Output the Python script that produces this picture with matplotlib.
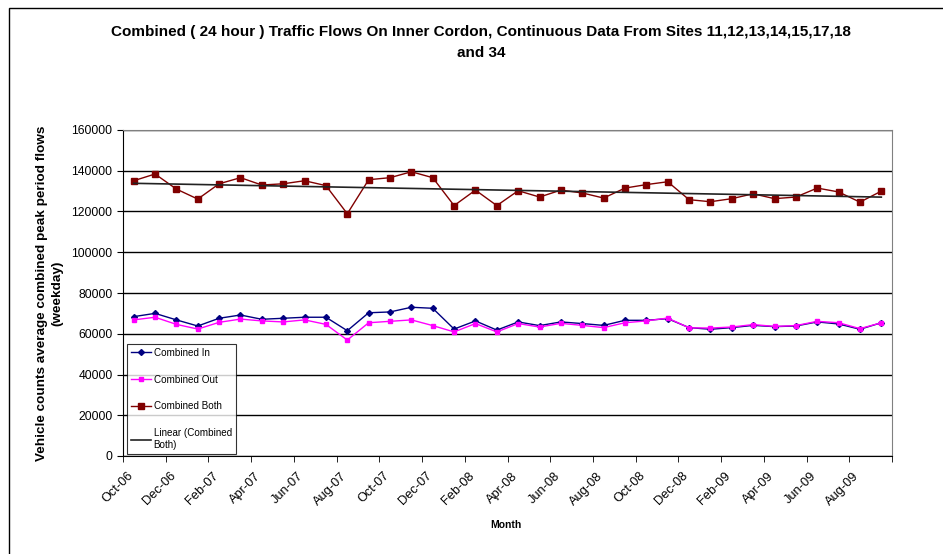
import matplotlib.pyplot as plt
import numpy as np
import pandas as pd
from matplotlib.patches import Rectangle
from matplotlib.transforms import ScaledTranslation

plt.rcParams['font.family'] = ['Liberation Sans', 'DejaVu Sans']

# Oct-06 .. Sep-09, one value per month
months = pd.date_range("2006-10-01", periods=36, freq="MS").strftime("%b-%y").tolist()

combined_in = [68400, 70000, 66800, 63800, 67600, 69200, 67100, 67600, 68100, 68100,
               61500, 70300, 70700, 73000, 72500, 62300, 66300, 61800, 65800, 64000,
               65800, 65000, 64100, 66600, 66600, 67400, 63000, 62200, 63000, 64100,
               63500, 63800, 65800, 64800, 62200, 65400]
combined_out = [66800, 68100, 64600, 62300, 65600, 67200, 66300, 65800, 66800, 64600,
                56900, 65400, 66100, 66800, 64000, 60900, 65000, 60900, 65000, 63300,
                65100, 64100, 63000, 65400, 66300, 67700, 62900, 62800, 63300, 64500,
                63600, 64000, 66100, 65400, 62500, 65400]
combined_both = [135100, 138400, 131000, 126100, 133600, 136600, 133000, 133600, 135100, 132700,
                 118900, 135600, 136600, 139500, 136600, 122900, 130500, 122900, 130200, 127100,
                 130500, 129100, 126600, 131500, 133200, 134600, 125800, 124800, 126300, 128700,
                 126300, 127100, 131500, 129600, 124600, 130000]

x = np.arange(len(months))
coef = np.polyfit(x, combined_both, 1)
trend = np.polyval(coef, x)

fig = plt.figure(figsize=(9.43, 5.54), dpi=100)
ax = fig.add_axes([123 / 943, 1 - 456 / 554, 769 / 943, 326 / 554])

ax.plot(x, combined_in, color='#000080', lw=1, marker='D', ms=3, label='Combined In')
ax.plot(x, combined_out, color='#FF00FF', lw=1, marker='s', ms=3.5, label='Combined Out')
ax.plot(x, combined_both, color='#800000', lw=1, marker='s', ms=5, label='Combined Both')
ax.plot(x, trend, color='#222222', lw=1.2, label='Linear (Combined\nBoth)')

ax.set_xlim(-0.5, 35.5)
ax.set_ylim(0, 160000)
ax.set_yticks(np.arange(0, 160001, 20000))
ax.yaxis.grid(True, color='black', lw=1)
ax.set_axisbelow(True)

ax.set_xticks(x[::2])
ax.set_xticklabels(months[::2], rotation=45, ha='right', va='top', rotation_mode='anchor')
ax.set_xticks(np.arange(-0.5, 36, 2), minor=True)
ax.tick_params(axis='x', which='major', length=0, pad=10, labelsize=9.2)
ax.tick_params(axis='x', which='minor', length=4, direction='out', color='black')
ax.tick_params(axis='y', length=4, labelsize=8.7)
for lab in ax.get_xticklabels():
    lab.set_transform(lab.get_transform() + ScaledTranslation(-0.07, 0, fig.dpi_scale_trans))

ax.spines['top'].set_color('#808080')
ax.spines['right'].set_color('#808080')
ax.spines['left'].set_color('black')
ax.spines['bottom'].set_color('black')

ax.set_xlabel('Month', fontsize=7.5, fontweight='bold', va='center')
ax.xaxis.set_label_coords((506 - 123) / 769, (456 - 525) / 326)
ax.set_ylabel('Vehicle counts average combined peak period flows\n(weekday)',
              fontsize=9.7, fontweight='bold', labelpad=6, linespacing=1.35)

fig.text(0.51, 1 - 42.5 / 554, 'Combined ( 24 hour ) Traffic Flows On Inner Cordon, Continuous Data From Sites 11,12,13,14,15,17,18\nand 34',
         ha='center', va='center', fontsize=11, fontweight='bold', linespacing=1.6)

leg = ax.legend(loc='upper left', bbox_to_anchor=(127 / 943, 1 - 344 / 554),
                bbox_transform=fig.transFigure, fontsize=7.1, frameon=True, fancybox=False,
                edgecolor='black', labelspacing=1.7, handlelength=2.0, handletextpad=0.3,
                borderaxespad=0, borderpad=0.4)
leg.get_frame().set_linewidth(0.8)

fig.patches.append(Rectangle((9 / 943, -0.1), 1.2, 1 - 8 / 554 + 0.1, transform=fig.transFigure,
                             fill=False, edgecolor='black', lw=1))

fig.savefig('out.png', dpi=100)
